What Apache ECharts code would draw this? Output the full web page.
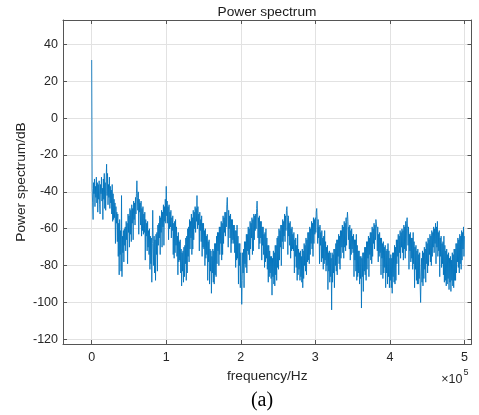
<!DOCTYPE html>
<html><head><meta charset="utf-8">
<script src="https://cdn.jsdelivr.net/npm/echarts@6/dist/echarts.min.js"></script>
<style>html,body{margin:0;padding:0;background:#fff}#c{width:479px;height:415px}</style>
</head><body><div id="c"></div>
<script>
// ---- data ----
const binHz = 625; // spacing of the spectrum bins (Hz)
const powerDb = [
  31.5, -38, -46, -55, -35, -41, -33, -48, -37, -43, -32, -46, -35, -51, -36, -44,
  -34, -47, -52, -36, -41, -32, -45, -38, -55, -33, -44, -30, -49, -35, -50, -33,
  -25, -42, -30, -47, -36, -43, -32, -49, -37, -46, -39, -52, -36, -56, -41, -55,
  -44, -54, -46, -68, -48, -57, -51, -67, -52, -75, -57, -85, -55, -74, -61, -83,
  -42, -86, -64, -73, -61, -78, -60, -69, -59, -72, -56, -66, -57, -79, -52, -62,
  -53, -70, -49, -63, -50, -67, -47, -57, -49, -66, -45, -55, -46, -58, -43, -52,
  -41, -34, -43, -50, -40, -63, -44, -51, -46, -58, -45, -64, -49, -61, -48, -63,
  -52, -62, -51, -77, -55, -64, -57, -72, -56, -70, -61, -74, -60, -82, -64, -79,
  -65, -89, -68, -50, -67, -80, -64, -84, -66, -88, -63, -74, -62, -83, -58, -69,
  -57, -65, -53, -74, -54, -62, -50, -70, -51, -59, -47, -69, -48, -56, -44, -57,
  -37, -53, -45, -57, -48, -66, -47, -60, -51, -59, -50, -65, -54, -61, -53, -74,
  -57, -76, -56, -73, -55, -69, -59, -75, -64, -85, -62, -78, -67, -77, -66, -84,
  -71, -91, -73, -83, -72, -89, -70, -86, -69, -79, -65, -88, -64, -84, -60, -75,
  -59, -78, -55, -71, -56, -65, -52, -74, -54, -71, -50, -66, -51, -60, -48, -62,
  -49, -56, -42, -60, -48, -58, -52, -72, -51, -61, -55, -67, -53, -75, -57, -70,
  -57, -71, -61, -80, -60, -76, -64, -74, -63, -88, -67, -78, -66, -90, -71, -83,
  -72, -95, -75, -84, -71, -89, -72, -90, -68, -85, -68, -86, -64, -79, -62, -72,
  -62, -80, -59, -74, -59, -68, -56, -77, -57, -74, -53, -68, -54, -62, -51, -64,
  -51, -59, -47, -43, -51, -70, -50, -60, -53, -65, -52, -73, -55, -68, -55, -66,
  -58, -68, -58, -73, -61, -81, -61, -77, -58, -76, -64, -90, -68, -80, -68, -92,
  -73, -85, -101, -88, -73, -84, -71, -92, -67, -79, -67, -81, -63, -84, -63, -72,
  -59, -74, -60, -77, -56, -71, -57, -65, -54, -74, -55, -72, -52, -66, -53, -61,
  -52, -60, -49, -45, -51, -65, -54, -71, -53, -68, -56, -65, -56, -77, -59, -69,
  -59, -74, -63, -81, -62, -78, -60, -76, -65, -82, -69, -89, -69, -86, -72, -84,
  -75, -87, -75, -96, -76, -86, -72, -90, -73, -91, -69, -85, -69, -88, -65, -81,
  -64, -82, -60, -77, -61, -70, -58, -80, -58, -67, -55, -71, -56, -64, -52, -67,
  -53, -61, -50, -48, -54, -74, -53, -64, -57, -69, -56, -76, -60, -72, -59, -71,
  -63, -72, -62, -84, -66, -75, -65, -81, -69, -88, -63, -85, -71, -82, -73, -88,
  -72, -86, -75, -89, -71, -92, -72, -87, -68, -80, -69, -83, -65, -85, -66, -78,
  -62, -77, -62, -79, -59, -74, -60, -68, -56, -71, -57, -75, -54, -68, -55, -63,
  -54, -62, -51, -49, -56, -68, -55, -65, -59, -79, -58, -69, -62, -78, -61, -76,
  -65, -82, -64, -79, -61, -77, -67, -83, -70, -80, -69, -93, -73, -83, -72, -89,
  -73, -86, -76, -104, -73, -89, -74, -84, -71, -92, -71, -80, -68, -83, -66, -85,
  -66, -75, -63, -79, -64, -82, -61, -76, -61, -70, -58, -73, -59, -76, -56, -70,
  -57, -72, -54, -69, -55, -51, -56, -66, -59, -71, -58, -77, -61, -74, -60, -71,
  -64, -73, -63, -86, -66, -77, -66, -83, -63, -88, -69, -86, -72, -84, -72, -90,
  -75, -87, -75, -103, -76, -86, -73, -94, -73, -83, -70, -85, -70, -88, -67, -82,
  -67, -76, -64, -86, -65, -74, -62, -77, -62, -79, -59, -75, -60, -68, -57, -71,
  -58, -66, -55, -54, -60, -72, -59, -78, -63, -75, -62, -73, -65, -85, -65, -76,
  -68, -87, -67, -84, -70, -81, -69, -92, -72, -84, -71, -90, -68, -86, -72, -92,
  -76, -88, -74, -92, -76, -95, -73, -86, -73, -89, -69, -90, -70, -88, -66, -79,
  -66, -75, -63, -85, -64, -73, -61, -76, -62, -70, -60, -73, -61, -77, -58, -71,
  -59, -76, -56, -72, -57, -54, -60, -69, -59, -82, -63, -72, -62, -78, -65, -76,
  -65, -82, -62, -79, -67, -92, -70, -82, -69, -88, -72, -90, -71, -90, -74, -87,
  -73, -91, -100, -86, -76, -89, -72, -91, -73, -87, -70, -82, -71, -89, -67, -79,
  -68, -84, -65, -80, -66, -74, -63, -78, -64, -80, -61, -75, -62, -70, -59, -73,
  -60, -68, -57, -79, -59, -70, -56, -75, -62, -72, -61, -86, -65, -75, -64, -81,
  -68, -79, -67, -85, -64, -89, -69, -88, -72, -91, -71, -90, -74, -87, -73, -93,
  -76, -89, -75, -94, -77, -88, -73, -91, -74, -92, -71, -88, -71, -88, -68, -84,
  -68, -78, -65, -81, -66, -84, -63, -79, -64, -82, -61, -77, -62, -71, -59, -75,
  -64
];
const xTickValues = [0, 100000, 200000, 300000, 400000, 500000];
const yTickValues = [-120, -100, -80, -60, -40, -20, 0, 20, 40];
const titleText = 'Power spectrum';
const xAxisTitle = 'frequency/Hz';
const yAxisTitle = 'Power spectrum/dB';
const xExponentBase = '×10';
const xExponent = '5';
const captionText = '(a)';

// ---- chart ----
const SANS = '"Liberation Sans", Arial, Helvetica, sans-serif';
const axisColor = '#555555';
const labelColor = '#262626';
const gridColor = '#e2e2e2';
const xMin = -38500, xMax = 509500, yMin = -122.5, yMax = 53.2;

const seriesData = powerDb.map((v, i) => [i * binHz, v]);

const chart = echarts.init(document.getElementById('c'), null, {renderer: 'canvas'});
const tickStyle = {color: axisColor, width: 1};
chart.setOption({
  animation: false,
  backgroundColor: '#ffffff',
  grid: {left: 63, top: 20, right: 7.5, bottom: 71, containLabel: false, outerBoundsMode: 'none'},
  xAxis: [{
    type: 'value', min: xMin, max: xMax, position: 'bottom',
    axisLine: {show: true, onZero: false, lineStyle: tickStyle},
    axisTick: {show: true, inside: true, length: 4, customValues: xTickValues, lineStyle: tickStyle},
    axisLabel: {show: true, customValues: xTickValues, formatter: v => String(Math.round(v / 1e5)),
      color: labelColor, fontSize: 12.5, fontFamily: SANS, margin: 7},
    splitLine: {show: true, lineStyle: {color: gridColor, width: 1}},
    name: xAxisTitle, nameLocation: 'middle', nameGap: 25, nameMoveOverlap: false,
    nameTextStyle: {color: labelColor, fontSize: 13.7, fontFamily: SANS}
  }, {
    type: 'value', min: xMin, max: xMax, position: 'top',
    axisLine: {show: true, onZero: false, lineStyle: tickStyle},
    axisTick: {show: true, inside: true, length: 4, customValues: xTickValues, lineStyle: tickStyle},
    axisLabel: {show: false}, splitLine: {show: false}
  }],
  yAxis: [{
    type: 'value', min: yMin, max: yMax, position: 'left',
    axisLine: {show: true, onZero: false, lineStyle: tickStyle},
    axisTick: {show: true, inside: true, length: 4, customValues: yTickValues, lineStyle: tickStyle},
    axisLabel: {show: true, customValues: yTickValues, color: labelColor, fontSize: 12.5, fontFamily: SANS, margin: 5},
    splitLine: {show: true, lineStyle: {color: gridColor, width: 1}},
    name: yAxisTitle, nameLocation: 'middle', nameGap: 35, nameRotate: 90, nameMoveOverlap: false,
    nameTextStyle: {color: labelColor, fontSize: 13.7, fontFamily: SANS}
  }, {
    type: 'value', min: yMin, max: yMax, position: 'right',
    axisLine: {show: true, onZero: false, lineStyle: tickStyle},
    axisTick: {show: true, inside: true, length: 4, customValues: yTickValues, lineStyle: tickStyle},
    axisLabel: {show: false}, splitLine: {show: false}
  }],
  series: [{
    type: 'line', xAxisIndex: 0, yAxisIndex: 0, data: seriesData,
    showSymbol: false, symbol: 'none', sampling: null, smooth: false,
    lineStyle: {color: '#0072BD', width: 0.85}, z: 3
  }],
  graphic: [
    {type: 'text', x: 267, y: 12, style: {text: titleText, fill: '#1a1a1a', font: '13.7px ' + SANS, align: 'center', verticalAlign: 'middle'}},
    {type: 'text', x: 462.5, y: 380, style: {text: xExponentBase, fill: labelColor, font: '12.5px ' + SANS, align: 'right', verticalAlign: 'middle'}},
    {type: 'text', x: 463.5, y: 372.5, style: {text: xExponent, fill: labelColor, font: '9px ' + SANS, align: 'left', verticalAlign: 'middle'}},
    {type: 'text', x: 262, y: 401, style: {text: captionText, fill: '#000000', font: '20px "Liberation Serif", "Times New Roman", serif', align: 'center', verticalAlign: 'middle'}}
  ]
});
</script>
</body></html>
